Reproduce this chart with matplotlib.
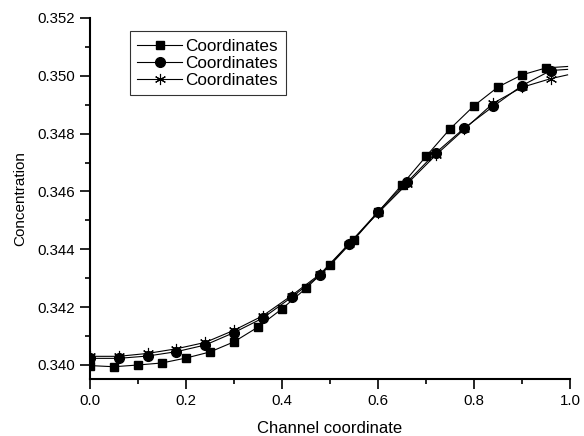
import matplotlib
matplotlib.use('Agg')
import matplotlib.pyplot as plt
from matplotlib.ticker import MultipleLocator, FormatStrFormatter

plt.rcParams['font.family'] = ['Liberation Sans', 'DejaVu Sans']

# Data
x_sq = [0.0, 0.05, 0.10, 0.15, 0.20, 0.25, 0.30, 0.35, 0.40, 0.45, 0.50,
        0.55, 0.60, 0.65, 0.70, 0.75, 0.80, 0.85, 0.90, 0.95, 0.995]
y_sq = [0.33998, 0.33994, 0.34000, 0.34007, 0.34024, 0.34045, 0.34080,
        0.34131, 0.34194, 0.34265, 0.34344, 0.34433, 0.34528, 0.34623,
        0.34721, 0.34816, 0.34896, 0.34961, 0.35003, 0.35027, 0.35032]

x_ci = [0.0, 0.06, 0.12, 0.18, 0.24, 0.30, 0.36, 0.42, 0.48, 0.54, 0.60,
        0.66, 0.72, 0.78, 0.84, 0.90, 0.96, 0.995]
y_ci = [0.34023, 0.34023, 0.34031, 0.34046, 0.34069, 0.34112, 0.34162,
        0.34234, 0.34311, 0.34419, 0.34530, 0.34631, 0.34733, 0.34819,
        0.34894, 0.34966, 0.35018, 0.35022]

x_st = [0.0, 0.06, 0.12, 0.18, 0.24, 0.30, 0.36, 0.42, 0.48, 0.54, 0.60,
        0.66, 0.72, 0.78, 0.84, 0.90, 0.96, 0.995]
y_st = [0.34030, 0.34030, 0.34040, 0.34056, 0.34078, 0.34120, 0.34170,
        0.34240, 0.34315, 0.34420, 0.34525, 0.34625, 0.34725, 0.34815,
        0.34905, 0.34960, 0.34990, 0.35003]

labels = ['Coordinates', 'Coordinates', 'Coordinates']

fig = plt.figure(figsize=(5.84, 4.36), dpi=100)
ax = fig.add_axes([0.154, 0.131, 0.822, 0.828])

ax.plot(x_sq, y_sq, color='black', lw=0.8, marker='s', ms=6,
        markevery=list(range(len(x_sq) - 1)), label=labels[0])
ax.plot(x_ci, y_ci, color='black', lw=0.8, marker='o', ms=7,
        markevery=list(range(len(x_ci) - 1)), label=labels[1])
ax.plot(x_st, y_st, color='black', lw=0.8, marker=(6, 2, 0), ms=8, mew=0.8,
        markevery=list(range(len(x_st) - 1)), label=labels[2])

ax.set_xlim(0.0, 1.0)
ax.set_ylim(0.33952, 0.352)

ax.spines['top'].set_visible(False)
ax.spines['right'].set_visible(False)
ax.spines['left'].set_linewidth(1.5)
ax.spines['bottom'].set_linewidth(1.5)

ax.xaxis.set_major_locator(MultipleLocator(0.2))
ax.xaxis.set_minor_locator(MultipleLocator(0.1))
ax.yaxis.set_major_locator(MultipleLocator(0.002))
ax.yaxis.set_minor_locator(MultipleLocator(0.001))
ax.xaxis.set_major_formatter(FormatStrFormatter('%.1f'))
ax.yaxis.set_major_formatter(FormatStrFormatter('%.3f'))
ax.tick_params(which='major', direction='out', length=7, width=1.2,
               labelsize=10.8, pad=4)
ax.tick_params(which='minor', direction='out', length=3.5, width=1.2)

ax.set_xlabel('Channel coordinate', fontsize=12, labelpad=9)
ax.set_ylabel('Concentration', fontsize=11, labelpad=7)

leg = ax.legend(loc='upper left', bbox_to_anchor=(0.083, 0.964), fontsize=12.3,
                frameon=True, fancybox=False, handlelength=2.6,
                handletextpad=0.2, borderpad=0.45, labelspacing=0.12,
                borderaxespad=0)
leg.get_frame().set_edgecolor('black')
leg.get_frame().set_linewidth(0.8)

fig.savefig('out.png', dpi=100)
